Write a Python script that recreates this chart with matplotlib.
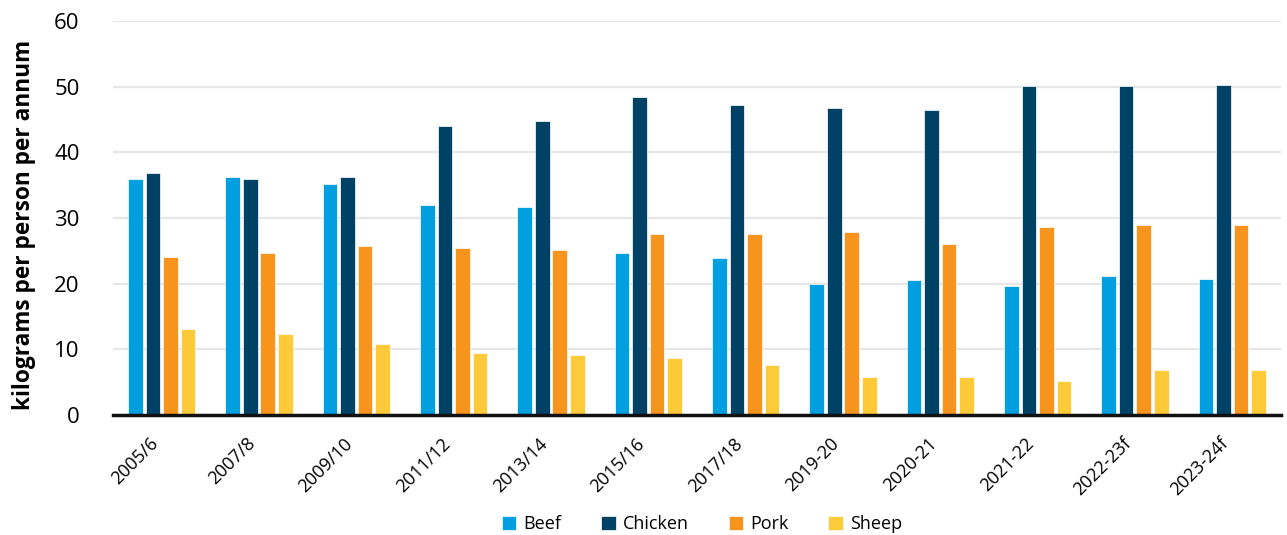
import numpy as np
import matplotlib
matplotlib.use("Agg")
import matplotlib.pyplot as plt

plt.rcParams["font.family"] = ["Open Sans", "DejaVu Sans"]

years = ["2005/6", "2007/8", "2009/10", "2011/12", "2013/14", "2015/16",
         "2017/18", "2019-20", "2020-21", "2021-22", "2022-23f", "2023-24f"]

beef = [35.9, 36.2, 35.2, 32.0, 31.7, 24.7, 23.9, 20.0, 20.5, 19.7, 21.2, 20.7]
chicken = [36.9, 35.9, 36.2, 44.0, 44.8, 48.5, 47.2, 46.7, 46.4, 50.1, 50.1, 50.3]
pork = [24.1, 24.6, 25.7, 25.4, 25.2, 27.5, 27.5, 27.8, 26.0, 28.6, 28.9, 28.9]
sheep = [13.1, 12.3, 10.8, 9.4, 9.1, 8.7, 7.6, 5.8, 5.8, 5.2, 6.8, 6.8]

series = [("Beef", beef, "#009FE0"),
          ("Chicken", chicken, "#004266"),
          ("Pork", pork, "#F7941E"),
          ("Sheep", sheep, "#FFCA3A")]

fig = plt.figure(figsize=(12.87, 5.35), dpi=100)
ax = fig.add_axes([0.0878, 0.2243, 0.9075, 0.7364])

x = np.arange(len(years))
step = 0.18
width = 0.15
for i, (name, vals, col) in enumerate(series):
    ax.bar(x + (i - 1.5) * step, vals, width, color=col, label=name,
           edgecolor="white", linewidth=0.5, zorder=3)

ax.set_xlim(-0.5, len(years) - 0.5)
ax.set_ylim(0, 60)
ax.set_yticks(range(0, 61, 10))
ax.yaxis.grid(True, color="#E6E6E6", linewidth=1.6, zorder=0)
ax.set_axisbelow(True)

for s in ["top", "right", "left"]:
    ax.spines[s].set_visible(False)
ax.spines["bottom"].set_linewidth(2.5)
ax.spines["bottom"].set_color("#111111")
ax.spines["bottom"].set_zorder(4)

ax.set_xticks(x)
ax.set_xticklabels(years, rotation=45, ha="right", va="top", fontsize=13)
ax.tick_params(axis="x", length=0, pad=14)
ax.tick_params(axis="y", length=0, pad=24, labelsize=16)

ax.set_ylabel("kilograms per person per annum", fontsize=16.3, fontweight="bold")
ax.yaxis.set_label_coords(-0.066, 0.482)

fig.legend(loc="center", bbox_to_anchor=(0.5455, 0.0206), ncol=4, frameon=False,
           fontsize=13, handlelength=0.8, handleheight=0.8, handletextpad=0.4,
           columnspacing=2.2)

fig.savefig("out.png", dpi=100)
